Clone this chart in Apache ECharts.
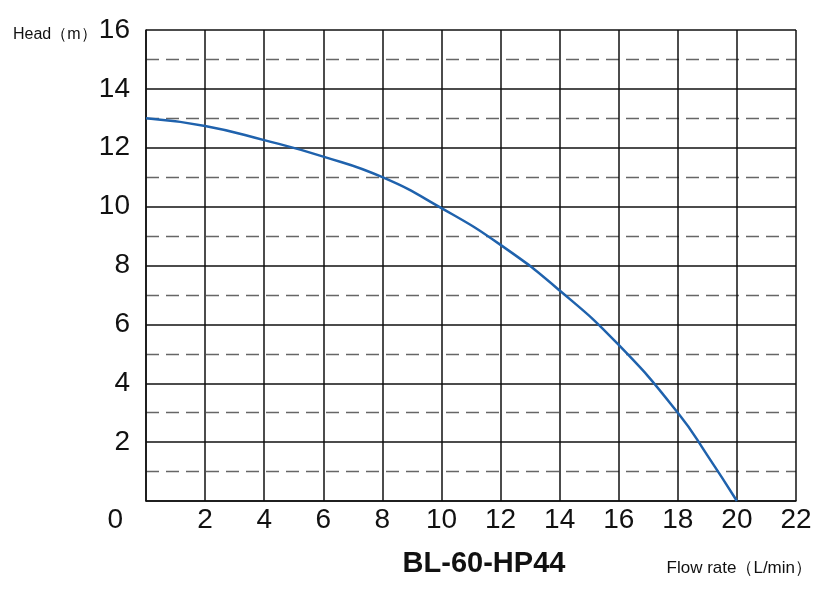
<!DOCTYPE html>
<html><head><meta charset="utf-8">
<script src="https://cdn.jsdelivr.net/npm/echarts@6/dist/echarts.min.js"></script>
<style>html,body{margin:0;padding:0;background:#fff}#c{width:834px;height:593px}</style>
</head><body><div id="c"></div>
<script>
const flowRate = [0, 2, 4, 6, 8, 10, 12, 14, 16, 18, 19, 20];
const head = [13, 12.74, 12.26, 11.7, 11.0, 9.95, 8.7, 7.15, 5.3, 3.0, 1.55, 0];
const modelName = 'BL-60-HP44';
const xTitle = 'Flow rate（L/min）';
const yTitle = 'Head（m）';

const chart = echarts.init(document.getElementById('c'), null, {renderer: 'canvas'});
const FONT = '"Liberation Sans", Arial, sans-serif';
chart.setOption({
  animation: false,
  backgroundColor: '#fff',
  title: [
    {text: modelName, left: 479, textAlign: 'center', top: 544, textStyle: {fontFamily: FONT, fontSize: 29, fontWeight: 'bold', color: '#111'}},
    {text: xTitle, right: 17, top: 555, textStyle: {fontFamily: FONT, fontSize: 17, fontWeight: 'normal', color: '#111'}},
    {text: yTitle, left: 8, top: 22, textStyle: {fontFamily: FONT, fontSize: 16, fontWeight: 'normal', color: '#111'}}
  ],
  grid: {left: 146, right: 38, top: 30, bottom: 92, containLabel: false},
  xAxis: {
    type: 'value', min: 0, max: 22, interval: 2,
    axisLine: {show: true, lineStyle: {color: '#111', width: 1.5}},
    axisTick: {show: false},
    axisLabel: {fontFamily: FONT, fontSize: 28, color: '#111', margin: 5,
      formatter: v => v === 0 ? '' : String(v)},
    splitLine: {show: true, lineStyle: {color: '#111', width: 1.5}}
  },
  yAxis: {
    type: 'value', min: 0, max: 16, interval: 2,
    axisLine: {show: true, lineStyle: {color: '#111', width: 1.5}},
    axisTick: {show: false},
    axisLabel: {fontFamily: FONT, fontSize: 28, color: '#111', margin: 16,
      formatter: v => v === 0 ? '{o|0}' : String(v),
      rich: {o: {fontFamily: FONT, fontSize: 28, color: '#111', padding: [38, 7, 0, 0]}}},
    splitLine: {show: true, lineStyle: {color: '#111', width: 1.5}},
    minorTick: {show: false, splitNumber: 2},
    minorSplitLine: {show: true, lineStyle: {color: '#666', width: 1.3, type: [13, 7]}}
  },
  series: [{
    type: 'line', smooth: 0.5, symbol: 'none',
    data: flowRate.map((x, i) => [x, head[i]]),
    lineStyle: {color: '#1f62ad', width: 2.5}
  }]
});
</script></body></html>
